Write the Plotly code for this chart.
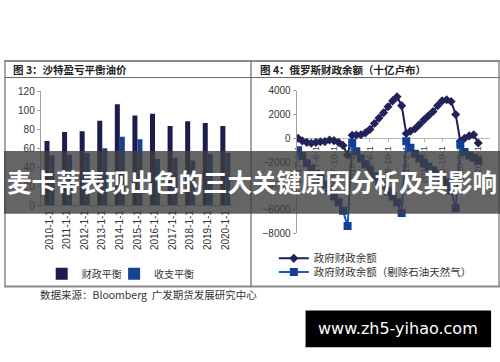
import plotly.graph_objects as go
import pandas as pd

W, H = 500, 362


def fx(x):
    return x / W


def fy(y):
    return 1 - y / H


# ---------------- data: left chart (图3) ----------------
years = ["2010-1-1", "2011-1-1", "2012-1-1", "2013-1-1", "2014-1-1", "2015-1-1",
         "2016-1-1", "2017-1-1", "2018-1-1", "2019-1-1", "2020-1-1"]
fiscal_breakeven = [67.5, 77, 78, 89, 106.5, 94.5, 96.5, 83.5, 88.5, 86.5, 83.5]
current_breakeven = [52.5, 53, 55, 60, 72, 69.5, 48.5, 50, 47, 54, 55]
left_yticks = [0, 20, 40, 60, 80, 100, 120]

# ---------------- data: right chart (图4) ----------------
months = pd.date_range("2017-01-31", periods=41, freq=pd.offsets.MonthEnd())
balance_2017 = [0, -220, -350, -420, -350, -300, -280, -150, -200, -350, -600, -1400]
balance_2018 = [250, 280, 300, 450, 750, 1250, 1700, 2150, 2650, 3150, 3500, 2750]
balance_2019 = [400, 600, 800, 1150, 1550, 1900, 2250, 2750, 3150, 3250, 3100, 2000]
balance_2020 = [-250, 0, 200, 300, -400]
exoil_2017 = [-1000, -1500, -2100, -2600, -3000, -3400, -3900, -4400, -4900, -5400, -6100, -7400]
exoil_2018 = [-400, -1100, -1700, -2200, -2700, -3200, -3600, -4000, -4500, -4900, -5400, -6300]
exoil_2019 = [-250, -800, -1300, -1700, -2100, -2400, -2700, -3000, -3300, -3700, -4400, -5900]
exoil_2020 = [-500, -1150, -1450, -1650, -1900]
balance = balance_2017 + balance_2018 + balance_2019 + balance_2020
balance_ex_oil = exoil_2017 + exoil_2018 + exoil_2019 + exoil_2020
right_yticks = [-8000, -6000, -4000, -2000, 0, 2000, 4000]
right_tick_dates = months[::4]
right_tick_text = ["2017-2-1", "2017-6-1", "2017-10-1", "2018-2-1", "2018-6-1", "2018-10-1",
                   "2019-2-1", "2019-6-1", "2019-10-1", "2020-2-1", "2020-6-1"]

# ---------------- text ----------------
title_left = "图 3：沙特盈亏平衡油价"
title_right = "图 4：俄罗斯财政余额（十亿卢布）"
source_text = "数据来源：Bloomberg  广发期货发展研究中心"
banner_text = "麦卡蒂表现出色的三大关键原因分析及其影响"
watermark_text = "www.zh5-yihao.com"

CJK = "Noto Sans CJK SC"
NUM = "Liberation Sans"

fig = go.Figure()

# left bars
fig.add_trace(go.Bar(x=years, y=fiscal_breakeven, name="财政平衡",
                     marker=dict(color="#1c1d4f", line=dict(width=0)),
                     xaxis="x", yaxis="y", legend="legend"))
fig.add_trace(go.Bar(x=years, y=current_breakeven, name="收支平衡",
                     marker=dict(color="#16428f", line=dict(width=0)),
                     xaxis="x", yaxis="y", legend="legend2"))

# right lines
fig.add_trace(go.Scatter(x=months, y=balance, name="政府财政余额", mode="lines+markers",
                         line=dict(color="#1e1e52", width=2),
                         marker=dict(symbol="diamond", size=7, color="#22225a"),
                         xaxis="x2", yaxis="y2", legend="legend3"))
fig.add_trace(go.Scatter(x=months, y=balance_ex_oil, name="政府财政余额（剔除石油天然气）",
                         mode="lines+markers",
                         line=dict(color="#1a58c0", width=2),
                         marker=dict(symbol="square", size=8, color="#113f98"),
                         xaxis="x2", yaxis="y2", legend="legend4"))

axis_line = "#a0a0a0"


def leg(x, y, size=10.5):
    return dict(x=fx(x), y=fy(y), xanchor="left", yanchor="top",
                font=dict(family=CJK, size=size, color="#333"),
                itemwidth=30, bgcolor="rgba(0,0,0,0)", borderwidth=0)


fig.update_layout(
    width=W, height=H,
    margin=dict(l=0, r=0, t=0, b=0),
    paper_bgcolor="white", plot_bgcolor="rgba(0,0,0,0)",
    font=dict(family=CJK, size=10, color="#333"),
    barmode="group", bargap=0.43, bargroupgap=0,
    showlegend=True,
    xaxis=dict(domain=[fx(37), fx(232)], type="category", tickangle=-90,
               showline=True, linecolor=axis_line, linewidth=1, ticks="",
               tickfont=dict(family=NUM, size=10, color="#333"),
               showgrid=False, zeroline=False, anchor="y", fixedrange=True),
    yaxis=dict(domain=[fy(205.9), fy(88.3)], range=[0, 120], tickvals=left_yticks,
               showline=True, linecolor=axis_line, ticks="outside", ticklen=3,
               tickcolor=axis_line, showgrid=False, zeroline=False,
               tickfont=dict(family=NUM, size=10, color="#333"), anchor="x"),
    xaxis2=dict(domain=[fx(295), fx(490)], range=["2017-01-21", "2020-08-19"],
                anchor="free", position=fy(136.8),
                tickvals=right_tick_dates, ticktext=right_tick_text,
                tickangle=-90, showline=True, linecolor="#b8b8b8", linewidth=1,
                ticks="outside", ticklen=3, tickcolor="#b8b8b8",
                showgrid=False, zeroline=False, layer="below traces",
                tickfont=dict(family=NUM, size=9.5, color="#444")),
    yaxis2=dict(domain=[fy(235), fy(87.7)], range=[-8000, 4000], tickvals=right_yticks,
                anchor="x2", showline=True, linecolor=axis_line, ticks="outside",
                ticklen=3, tickcolor=axis_line, showgrid=False, zeroline=False,
                tickfont=dict(family=NUM, size=10, color="#333")),
    legend=leg(38, 262, 10),
    legend2=leg(111, 262, 10),
    legend3=leg(272, 246),
    legend4=leg(272, 260),
)

# frames
frame = "#8a8a8a"
shapes = [
    dict(type="line", xref="paper", yref="paper", x0=0, x1=1, y0=fy(57), y1=fy(57),
         line=dict(color=frame, width=2)),
    dict(type="line", xref="paper", yref="paper", x0=0, x1=1, y0=fy(74), y1=fy(74),
         line=dict(color="#666", width=1)),
    dict(type="line", xref="paper", yref="paper", x0=0, x1=1, y0=fy(290), y1=fy(290),
         line=dict(color=frame, width=2)),
    dict(type="line", xref="paper", yref="paper", x0=fx(1), x1=fx(1), y0=fy(57), y1=fy(290),
         line=dict(color=frame, width=1.5)),
    dict(type="line", xref="paper", yref="paper", x0=fx(249), x1=fx(249), y0=fy(57), y1=fy(290),
         line=dict(color="#666", width=1.2)),
    dict(type="line", xref="paper", yref="paper", x0=fx(499), x1=fx(499), y0=fy(57), y1=fy(290),
         line=dict(color=frame, width=1.5)),
    # banner
    dict(type="rect", xref="paper", yref="paper", x0=0, x1=1, y0=fy(215), y1=fy(150),
         fillcolor="rgba(62,62,62,0.80)", line=dict(width=0), layer="above"),
    # watermark box
    dict(type="rect", xref="paper", yref="paper", x0=fx(304), x1=fx(491), y0=fy(353), y1=fy(315),
         fillcolor="black", line=dict(width=0), layer="above"),
]
fig.update_layout(shapes=shapes)

annotations = [
    dict(text="<b>" + title_left + "</b>", x=fx(7), y=fy(65.5), xref="paper", yref="paper",
         xanchor="left", yanchor="middle", showarrow=False,
         font=dict(family=CJK, size=10.5, color="#222")),
    dict(text="<b>" + title_right + "</b>", x=fx(256), y=fy(65.5), xref="paper", yref="paper",
         xanchor="left", yanchor="middle", showarrow=False,
         font=dict(family=CJK, size=10.5, color="#222")),
    dict(text=source_text, x=fx(34), y=fy(298), xref="paper", yref="paper",
         xanchor="left", yanchor="middle", showarrow=False,
         font=dict(family=CJK, size=10.5, color="#333")),
    dict(text="<b>" + banner_text + "</b>", x=0.5, y=fy(182), xref="paper", yref="paper",
         xanchor="center", yanchor="middle", showarrow=False,
         font=dict(family=CJK, size=24.5, color="white")),
    dict(text=watermark_text, x=fx(397.5), y=fy(334), xref="paper", yref="paper",
         xanchor="center", yanchor="middle", showarrow=False,
         font=dict(family="DejaVu Sans", size=16, color="white")),
]
fig.update_layout(annotations=annotations)

fig.write_html("out.html")
